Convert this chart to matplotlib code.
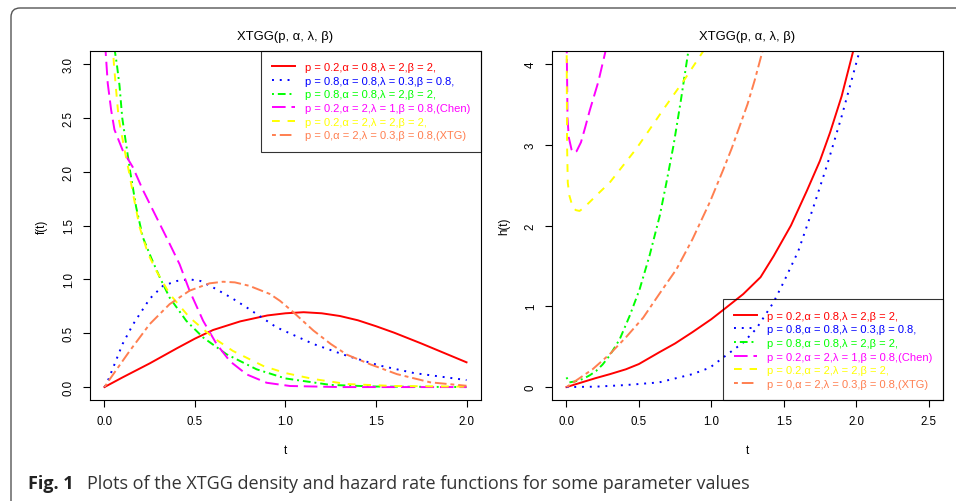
import matplotlib
matplotlib.use("Agg")
import matplotlib.pyplot as plt
from matplotlib.patches import FancyBboxPatch
from matplotlib.transforms import IdentityTransform

plt.rcParams["font.family"] = ["Liberation Sans", "DejaVu Sans"]

# legend entries, one per parameter set
legend_labels = [
    "p = 0.2,α = 0.8,λ = 2,β = 2,",
    "p = 0.8,α = 0.8,λ = 0.3,β = 0.8,",
    "p = 0.8,α = 0.8,λ = 2,β = 2,",
    "p = 0.2,α = 2,λ = 1,β = 0.8,(Chen)",
    "p = 0.2,α = 2,λ = 2,β = 2,",
    "p = 0,α = 2,λ = 0.3,β = 0.8,(XTG)",
]
line_colors = ["#ff0000", "#0000ff", "#00ff00", "#ff00ff", "#ffff00", "#ff7f50"]
line_styles = [
    "-",
    (0, (1, 3)),
    (0, (1, 2, 4, 2)),
    (0, (7, 3)),
    (0, (4, 4)),
    (0, (2, 2, 6, 2)),
]

# density f(t)
dens_t_1 = [0, 0.1, 0.25, 0.4, 0.5, 0.6, 0.75, 0.9, 1.0, 1.1, 1.2, 1.3, 1.4,
            1.5, 1.6, 1.75, 1.9, 2.0]
dens_f_1 = [0, 0.09, 0.22, 0.36, 0.45, 0.53, 0.61, 0.665, 0.685, 0.695, 0.685,
            0.66, 0.62, 0.565, 0.505, 0.405, 0.30, 0.23]
dens_t_2 = [0, 0.018, 0.055, 0.1, 0.157, 0.25, 0.323, 0.4, 0.47, 0.53, 0.6, 0.7,
            0.785, 0.95, 1.154, 1.34, 1.52, 1.71, 2.0]
dens_f_2 = [0, 0.056, 0.21, 0.40, 0.58, 0.82, 0.94, 0.985, 1.0, 0.985, 0.925,
            0.83, 0.74, 0.555, 0.40, 0.29, 0.20, 0.13, 0.065]
dens_t_3 = [0.05, 0.068, 0.083, 0.098, 0.12, 0.142, 0.175, 0.212, 0.258, 0.305,
            0.36, 0.452, 0.545, 0.674, 0.84, 1.0, 1.25, 1.5, 2.0]
dens_f_3 = [3.2, 3.0, 2.8, 2.5, 2.25, 2.0, 1.67, 1.39, 1.2, 1.02,
            0.83, 0.615, 0.46, 0.305, 0.165, 0.08, 0.02, 0.005, 0.0]
dens_t_4 = [0.003, 0.018, 0.037, 0.055, 0.10, 0.157, 0.212, 0.286, 0.36, 0.415,
            0.47, 0.545, 0.619, 0.693, 0.785, 0.896, 1.025, 1.3, 2.0]
dens_f_4 = [3.2, 2.82, 2.57, 2.39, 2.2, 2.04, 1.83, 1.58, 1.33, 1.14,
            0.895, 0.615, 0.40, 0.24, 0.118, 0.04, 0.01, 0.0, 0.0]
dens_t_5 = [0.045, 0.052, 0.062, 0.078, 0.111, 0.135, 0.157, 0.194, 0.24, 0.286,
            0.36, 0.47, 0.6, 0.71, 0.877, 1.0, 1.154, 1.34, 1.6, 2.0]
dens_f_5 = [3.2, 3.0, 2.8, 2.5, 2.2, 2.0, 1.80, 1.485, 1.24, 1.08,
            0.864, 0.646, 0.46, 0.335, 0.196, 0.13, 0.075, 0.028, 0.01, 0.004]
dens_t_6 = [0, 0.028, 0.139, 0.25, 0.36, 0.47, 0.58, 0.655, 0.72, 0.8, 0.914,
            0.97, 1.04, 1.154, 1.25, 1.34, 1.47, 1.616, 1.8, 2.0]
dens_f_6 = [0, 0.07, 0.335, 0.585, 0.77, 0.895, 0.963, 0.978, 0.972, 0.94, 0.864,
            0.80, 0.70, 0.525, 0.40, 0.30, 0.21, 0.12, 0.044, 0.012]

# hazard h(t)
haz_t_1 = [0, 0.1, 0.2, 0.3, 0.41, 0.5, 0.64, 0.75, 0.87, 1.0, 1.1, 1.22, 1.34,
           1.43, 1.55, 1.66, 1.75, 1.82, 1.9, 2.0]
haz_h_1 = [0, 0.055, 0.11, 0.16, 0.22, 0.285, 0.43, 0.54, 0.68, 0.84, 0.98,
           1.15, 1.36, 1.62, 2.0, 2.43, 2.8, 3.15, 3.6, 4.3]
haz_t_2 = [0, 0.2, 0.41, 0.64, 0.87, 0.99, 1.1, 1.22, 1.31, 1.43, 1.5, 1.6, 1.7,
           1.8, 1.9, 2.03]
haz_h_2 = [0, 0.005, 0.025, 0.058, 0.16, 0.24, 0.39, 0.55, 0.72, 1.05, 1.3, 1.68,
           2.2, 2.75, 3.35, 4.2]
haz_t_3 = [0, 0.02, 0.06, 0.113, 0.16, 0.205, 0.25, 0.298, 0.367, 0.436, 0.505,
           0.574, 0.644, 0.69, 0.74, 0.79, 0.845]
haz_h_3 = [0.12, 0.058, 0.07, 0.1, 0.145, 0.20, 0.28, 0.39, 0.59, 0.88, 1.21,
           1.63, 2.12, 2.53, 3.0, 3.55, 4.2]
haz_t_4 = [0.001, 0.005, 0.007, 0.016, 0.035, 0.05, 0.07, 0.1, 0.13, 0.16, 0.22,
           0.275]
haz_h_4 = [4.3, 3.7, 3.33, 3.09, 2.94, 2.9, 2.92, 3.03, 3.22, 3.42, 3.78, 4.2]
haz_t_5 = [0.001, 0.004, 0.009, 0.02, 0.044, 0.065, 0.09, 0.12, 0.16, 0.228,
           0.298, 0.39, 0.482, 0.59, 0.67, 0.82, 0.96]
haz_h_5 = [4.3, 3.0, 2.53, 2.37, 2.22, 2.19, 2.18, 2.22, 2.29, 2.41,
           2.53, 2.74, 2.95, 3.23, 3.44, 3.82, 4.2]
haz_t_6 = [0, 0.18, 0.3, 0.41, 0.53, 0.64, 0.76, 0.87, 0.99, 1.08, 1.14, 1.2,
           1.25, 1.3, 1.36]
haz_h_6 = [0, 0.22, 0.41, 0.615, 0.86, 1.15, 1.46, 1.83, 2.29, 2.68, 2.95, 3.25,
           3.5, 3.8, 4.2]

dens_x_ticks = [0.0, 0.5, 1.0, 1.5, 2.0]
dens_y_ticks = [0.0, 0.5, 1.0, 1.5, 2.0, 2.5, 3.0]
haz_x_ticks = [0.0, 0.5, 1.0, 1.5, 2.0, 2.5]
haz_y_ticks = [0, 1, 2, 3, 4]

title = "XTGG(p, α, λ, β)"
caption_bold = "Fig. 1"
caption_text = "Plots of the XTGG density and hazard rate functions for some parameter values"

W, H = 956, 502


def r_axes(fig, left_px, xlim, ylim):
    """axes box placed in pixels, limits padded 4% like R does"""
    ax = fig.add_axes([left_px / W, 1 - 401 / H, 391 / W, 349 / H])
    dx = (xlim[1] - xlim[0]) * 0.04
    dy = (ylim[1] - ylim[0]) * 0.04
    ax.set_xlim(xlim[0] - dx, xlim[1] + dx)
    ax.set_ylim(ylim[0] - dy, ylim[1] + dy)
    for sp in ax.spines.values():
        sp.set_linewidth(0.8)
    ax.tick_params(direction="out", length=5, width=0.8, labelsize=8.3, pad=6)
    ax.tick_params(axis="y", labelrotation=90)
    return ax


def finish(ax, xticks, xfmt, yticks, yfmt, ylabel, legend_loc):
    ax.set_xticks(xticks)
    ax.set_xticklabels([xfmt.format(v) for v in xticks])
    ax.set_yticks(yticks)
    ax.set_yticklabels([yfmt.format(v) for v in yticks], va="center")
    ax.set_xlabel("t", fontsize=8.3, va="center")
    ax.xaxis.set_label_coords(0.5, -50 / 349)
    ax.set_ylabel(ylabel, fontsize=8.3, va="center")
    ax.yaxis.set_label_coords(-48 / 391, 0.5)
    ax.text(0.5, 1 + 15 / 349, title, transform=ax.transAxes,
            ha="center", va="center", fontsize=9.4)
    leg = ax.legend(loc=legend_loc, fontsize=8, fancybox=False,
                    edgecolor="black", borderaxespad=0, labelcolor="linecolor",
                    handlelength=2.0, handletextpad=0.9, labelspacing=0.33,
                    borderpad=1.0)
    leg.get_frame().set_linewidth(0.8)
    leg.get_frame().set_facecolor("none")


fig = plt.figure(figsize=(W / 100, H / 100), dpi=100)

dens_t = [dens_t_1, dens_t_2, dens_t_3, dens_t_4, dens_t_5, dens_t_6]
dens_f = [dens_f_1, dens_f_2, dens_f_3, dens_f_4, dens_f_5, dens_f_6]
haz_t = [haz_t_1, haz_t_2, haz_t_3, haz_t_4, haz_t_5, haz_t_6]
haz_h = [haz_h_1, haz_h_2, haz_h_3, haz_h_4, haz_h_5, haz_h_6]

ax1 = r_axes(fig, 90, (0, 2), (0, 3))
for t, f, c, ls, lab in zip(dens_t, dens_f, line_colors, line_styles, legend_labels):
    ax1.plot(t, f, color=c, ls=ls, lw=1.4, label=lab)
finish(ax1, dens_x_ticks, "{:.1f}", dens_y_ticks, "{:.1f}", "f(t)", "upper right")

ax2 = r_axes(fig, 552, (0, 2.5), (0, 4))
for t, h, c, ls, lab in zip(haz_t, haz_h, line_colors, line_styles, legend_labels):
    ax2.plot(t, h, color=c, ls=ls, lw=1.4, label=lab)
finish(ax2, haz_x_ticks, "{:.1f}", haz_y_ticks, "{:d}", "h(t)", "lower right")

# rounded frame of the journal figure, runs off the right and bottom edges
frame = FancyBboxPatch((11, -50), 1000, H - 9 + 50,
                       boxstyle="round,pad=0,rounding_size=9",
                       transform=IdentityTransform(), fill=False,
                       edgecolor="#555555", linewidth=1.0)
fig.add_artist(frame)

fig.text(28 / W, 1 - 489 / H, caption_bold, fontfamily="Open Sans",
         fontweight="bold", fontsize=13.0, color="#222222", va="baseline")
fig.text(87 / W, 1 - 489 / H, caption_text, fontfamily="Open Sans",
         fontsize=13.0, color="#333333", va="baseline")

fig.savefig("out.png", dpi=100)
